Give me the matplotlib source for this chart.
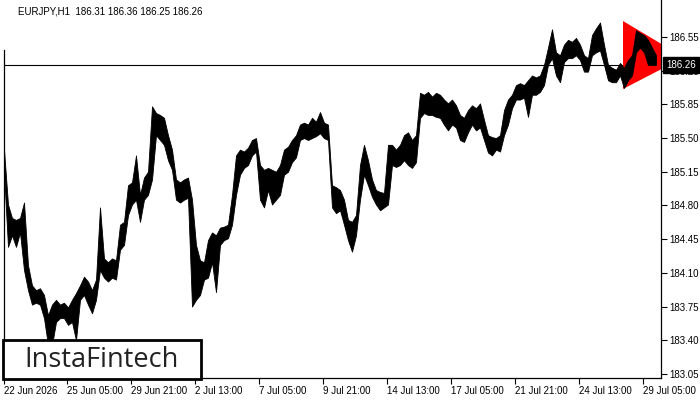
import numpy as np
import matplotlib
matplotlib.use("Agg")
import matplotlib.pyplot as plt
from matplotlib.patches import Polygon, Rectangle

# EURJPY H1 - highs and lows, one sample every 4 bars
hi = [185.38, 184.81, 184.67, 184.65, 184.67, 184.83, 184.18, 183.97, 183.92, 183.94,
      183.87, 183.66, 183.77, 183.82, 183.77, 183.79, 183.74, 183.82, 183.89, 183.97,
      184.06, 184.01, 183.92, 184.03, 184.78, 184.25, 184.21, 184.25, 184.23, 184.60,
      184.63, 185.01, 185.04, 185.32, 184.91, 185.09, 185.15, 185.83, 185.76, 185.74,
      185.71, 185.53, 185.38, 185.07, 185.04, 185.07, 185.09, 184.86, 184.39, 184.23,
      184.21, 184.44, 184.52, 184.49, 184.57, 184.58, 184.60, 184.91, 185.32, 185.38,
      185.36, 185.40, 185.48, 185.50, 185.22, 185.17, 185.19, 185.17, 185.15, 185.22,
      185.38, 185.41, 185.48, 185.53, 185.64, 185.66, 185.64, 185.71, 185.67, 185.77,
      185.66, 185.64, 185.01, 184.99, 184.96, 184.86, 184.65, 184.63, 184.70, 185.22,
      185.43, 185.27, 185.07, 184.96, 184.94, 184.93, 185.43, 185.43, 185.38, 185.43,
      185.53, 185.56, 185.48, 185.53, 185.97, 185.95, 185.98, 185.93, 185.97, 185.95,
      185.90, 185.86, 185.90, 185.84, 185.74, 185.71, 185.79, 185.84, 185.81, 185.86,
      185.69, 185.53, 185.51, 185.50, 185.53, 185.79, 185.90, 185.95, 186.05, 186.07,
      186.05, 186.10, 186.15, 186.13, 186.15, 186.26, 186.44, 186.63, 186.39, 186.36,
      186.47, 186.52, 186.50, 186.54, 186.47, 186.36, 186.33, 186.57, 186.64, 186.70,
      186.47, 186.26, 186.23, 186.21, 186.28, 186.23, 186.31, 186.36, 186.62, 186.59,
      186.57, 186.52, 186.44, 186.36]
lo = [185.15, 184.37, 184.49, 184.37, 184.52, 184.13, 183.92, 183.77, 183.79, 183.77,
      183.63, 183.35, 183.35, 183.59, 183.63, 183.63, 183.56, 183.59, 183.40, 183.82,
      183.87, 183.77, 183.68, 183.82, 184.13, 184.05, 184.01, 184.05, 184.03, 184.34,
      184.39, 184.70, 184.81, 184.86, 184.63, 184.86, 184.91, 185.07, 185.53, 185.48,
      185.43, 185.27, 185.17, 184.86, 184.83, 184.86, 184.88, 183.75, 183.82, 183.87,
      184.03, 184.05, 184.21, 183.90, 184.39, 184.44, 184.46, 184.60, 184.91, 185.12,
      185.19, 185.22, 185.32, 185.36, 184.86, 184.78, 184.96, 184.81, 184.86, 184.91,
      185.12, 185.15, 185.25, 185.30, 185.48, 185.50, 185.48, 185.50, 185.52, 185.55,
      185.50, 185.48, 184.78, 184.72, 184.75, 184.60, 184.44, 184.32, 184.49, 184.86,
      185.12, 185.01, 184.89, 184.81, 184.75, 184.78, 184.81, 185.22, 185.20, 185.22,
      185.27, 185.22, 185.19, 185.25, 185.71, 185.76, 185.74, 185.74, 185.72, 185.71,
      185.64, 185.58, 185.64, 185.61, 185.48, 185.46, 185.56, 185.64, 185.58, 185.61,
      185.48, 185.35, 185.32, 185.38, 185.36, 185.53, 185.64, 185.81, 185.90, 185.90,
      185.92, 185.72, 185.95, 185.95, 185.98, 186.05, 186.26, 186.33, 186.15, 186.08,
      186.29, 186.33, 186.33, 186.36, 186.31, 186.19, 186.19, 186.36, 186.39, 186.41,
      186.26, 186.10, 186.08, 186.08, 186.15, 186.02, 186.10, 186.15, 186.39, 186.44,
      186.39, 186.26, 186.26, 186.26]
bar_no = np.arange(len(hi)) * 4

last_price = 186.26
title = "EURJPY,H1  186.31 186.36 186.25 186.26"

price_ticks = [186.55, 186.20, 185.85, 185.50, 185.15, 184.80, 184.45,
               184.10, 183.75, 183.40, 183.05]
date_ticks = [0, 63, 127, 191, 255, 319, 383, 447, 511, 575, 639]
date_labels = ["22 Jun 2026", "25 Jun 05:00", "29 Jun 21:00", "2 Jul 13:00",
               "7 Jul 05:00", "9 Jul 21:00", "14 Jul 13:00", "17 Jul 05:00",
               "21 Jul 21:00", "24 Jul 13:00", "29 Jul 05:00"]

# symmetrical triangle pattern (bar, price)
tri_bars = [619, 680, 619]
tri_prices = [186.716, 186.337, 186.010]

fig = plt.figure(figsize=(7, 4), dpi=100)
ax = fig.add_axes([4 / 700, 22 / 400, 657 / 700, 378 / 400])
ax.set_xlim(0, 657)
ax.set_ylim(183.008, 186.934)

tri = Polygon(list(zip(tri_bars, tri_prices)), closed=True, facecolor="#ff0000",
              edgecolor="none", zorder=2)
ax.add_patch(tri)
ax.axhline(last_price, color="black", lw=0.8, zorder=1)
ax.fill_between(bar_no, lo, hi, color="black", lw=0.6, zorder=3)

ax.spines["top"].set_visible(False)
ax.spines["left"].set_bounds(183.008, 186.41)
for s in ["left", "right", "bottom"]:
    ax.spines[s].set_linewidth(0.9)

ax.yaxis.tick_right()
ax.set_yticks(price_ticks, [f"{p:.2f}" for p in price_ticks])
ax.set_xticks(date_ticks, date_labels, ha="left")
ax.tick_params(axis="both", direction="out", length=4, width=0.8, pad=2,
               labelsize=7, colors="black")
for lbl in ax.get_xticklabels() + ax.get_yticklabels():
    lbl.set_family("Liberation Sans")

ax.annotate(f"{last_price:.2f}", xy=(1.0, last_price), xycoords=("axes fraction", "data"),
            xytext=(3.5, 0), textcoords="offset points", ha="left", va="center",
            fontsize=7, color="white", family="Liberation Sans",
            bbox=dict(boxstyle="square,pad=0.3", fc="black", ec="black"))

fig.text(18 / 700, 1 - 12 / 400, title, ha="left", va="center", fontsize=7,
         family="Liberation Sans", color="black")

# logo box
fig.add_artist(Rectangle((3 / 700, 21 / 400), 198 / 700, 39 / 400, transform=fig.transFigure,
                         facecolor="white", edgecolor="black", lw=2, zorder=10))
fig.text(102 / 700, 1 - 360 / 400, "InstaFintech", ha="center", va="center", fontsize=19.5,
         family="Open Sans", weight="medium", color="#222222", zorder=11)

fig.savefig("out.png", dpi=100)
